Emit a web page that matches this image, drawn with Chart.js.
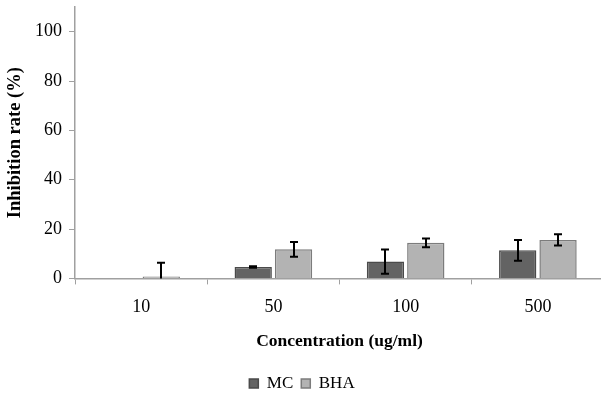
<!DOCTYPE html>
<html>
<head>
<meta charset="utf-8">
<script src="https://cdn.jsdelivr.net/npm/chart.js@4"></script>
<style>
  html, body { margin: 0; padding: 0; background: #fff; overflow: hidden; }
  #wrap { width: 604px; height: 395px; }
</style>
</head>
<body>
<div id="wrap"><canvas id="c" width="604" height="395"></canvas></div>
<script>
// Inhibition rate by concentration, MC vs BHA (mean ± error)
const categories = ['10', '50', '100', '500'];
const mcValues   = [0, 4.6, 6.8, 11.4];
const mcErrors   = [0, 0.3, 4.9, 4.2];
const bhaValues  = [0.8, 11.8, 14.4, 15.6];
const bhaErrors  = [5.5, 3.0, 1.8, 2.3];
const yTicks     = [0, 20, 40, 60, 80, 100];

const serif = "'Liberation Serif', 'Times New Roman', serif";
const axisGrey = '#a0a0a0';

// Draws vertical error bars with caps over each bar, clipped to the plot area
const errorBars = {
  id: 'errorBars',
  afterDatasetsDraw(chart) {
    const { ctx, chartArea, scales: { y } } = chart;
    ctx.save();
    ctx.beginPath();
    ctx.rect(chartArea.left, chartArea.top, chartArea.right - chartArea.left, chartArea.bottom - chartArea.top);
    ctx.clip();
    ctx.strokeStyle = '#000';
    ctx.lineWidth = 2;
    chart.data.datasets.forEach((ds, di) => {
      const meta = chart.getDatasetMeta(di);
      meta.data.forEach((bar, i) => {
        const err = ds.errors[i];
        if (!err) return;
        const v = ds.data[i];
        const yHi = y.getPixelForValue(v + err);
        const yLo = y.getPixelForValue(v - err);
        const x = Math.round(bar.x);
        ctx.beginPath();
        ctx.moveTo(x, yHi); ctx.lineTo(x, yLo);
        ctx.moveTo(x - 4, yHi); ctx.lineTo(x + 4, yHi);
        ctx.moveTo(x - 4, yLo); ctx.lineTo(x + 4, yLo);
        ctx.stroke();
      });
    });
    ctx.restore();
  }
};

new Chart(document.getElementById('c'), {
  type: 'bar',
  data: {
    labels: categories,
    datasets: [
      { label: 'MC', data: mcValues, errors: mcErrors,
        backgroundColor: '#636363', borderColor: '#4a4a4a', borderWidth: 1.5 },
      { label: 'BHA', data: bhaValues, errors: bhaErrors,
        backgroundColor: '#b3b3b3', borderColor: '#7c7c7c', borderWidth: 1.5 }
    ]
  },
  options: {
    responsive: false,
    animation: false,
    devicePixelRatio: 1,
    layout: { padding: { top: 7, right: 0, bottom: -7, left: 0 } },
    datasets: { bar: { categoryPercentage: 0.61, barPercentage: 0.925 } },
    plugins: {
      tooltip: { enabled: false },
      legend: {
        position: 'bottom',
        labels: {
          font: { family: serif, size: 17 },
          color: '#000',
          boxWidth: 9,
          boxHeight: 9,
          padding: 8
        }
      }
    },
    scales: {
      x: {
        afterFit(scale) { scale.height = 88.6; },
        grid: { offset: true, drawOnChartArea: false, drawTicks: true, tickLength: 6, color: axisGrey },
        border: { display: true, color: axisGrey, width: 1.5 },
        ticks: { font: { family: serif, size: 18 }, color: '#000', padding: 12, maxRotation: 0 },
        title: { display: true, text: 'Concentration (ug/ml)', color: '#000',
                 font: { family: serif, size: 17.5, weight: 'bold' }, padding: { top: 5, bottom: 15 } }
      },
      y: {
        min: 0,
        max: 110,
        afterBuildTicks(scale) { scale.ticks = yTicks.map(v => ({ value: v })); },
        afterFit(scale) { scale.width = 75; scale.paddingTop = 0; scale.paddingBottom = 0; },
        grid: { drawOnChartArea: false, drawTicks: true, tickLength: 6, color: axisGrey },
        border: { display: true, color: axisGrey, width: 1.5 },
        ticks: { font: { family: serif, size: 18 }, color: '#000', padding: 7 },
        title: { display: true, text: 'Inhibition rate (%)', color: '#000',
                 font: { family: serif, size: 18.5, weight: 'bold' }, padding: { top: 4, bottom: 0 } }
      }
    }
  },
  plugins: [errorBars]
});
</script>
</body>
</html>
